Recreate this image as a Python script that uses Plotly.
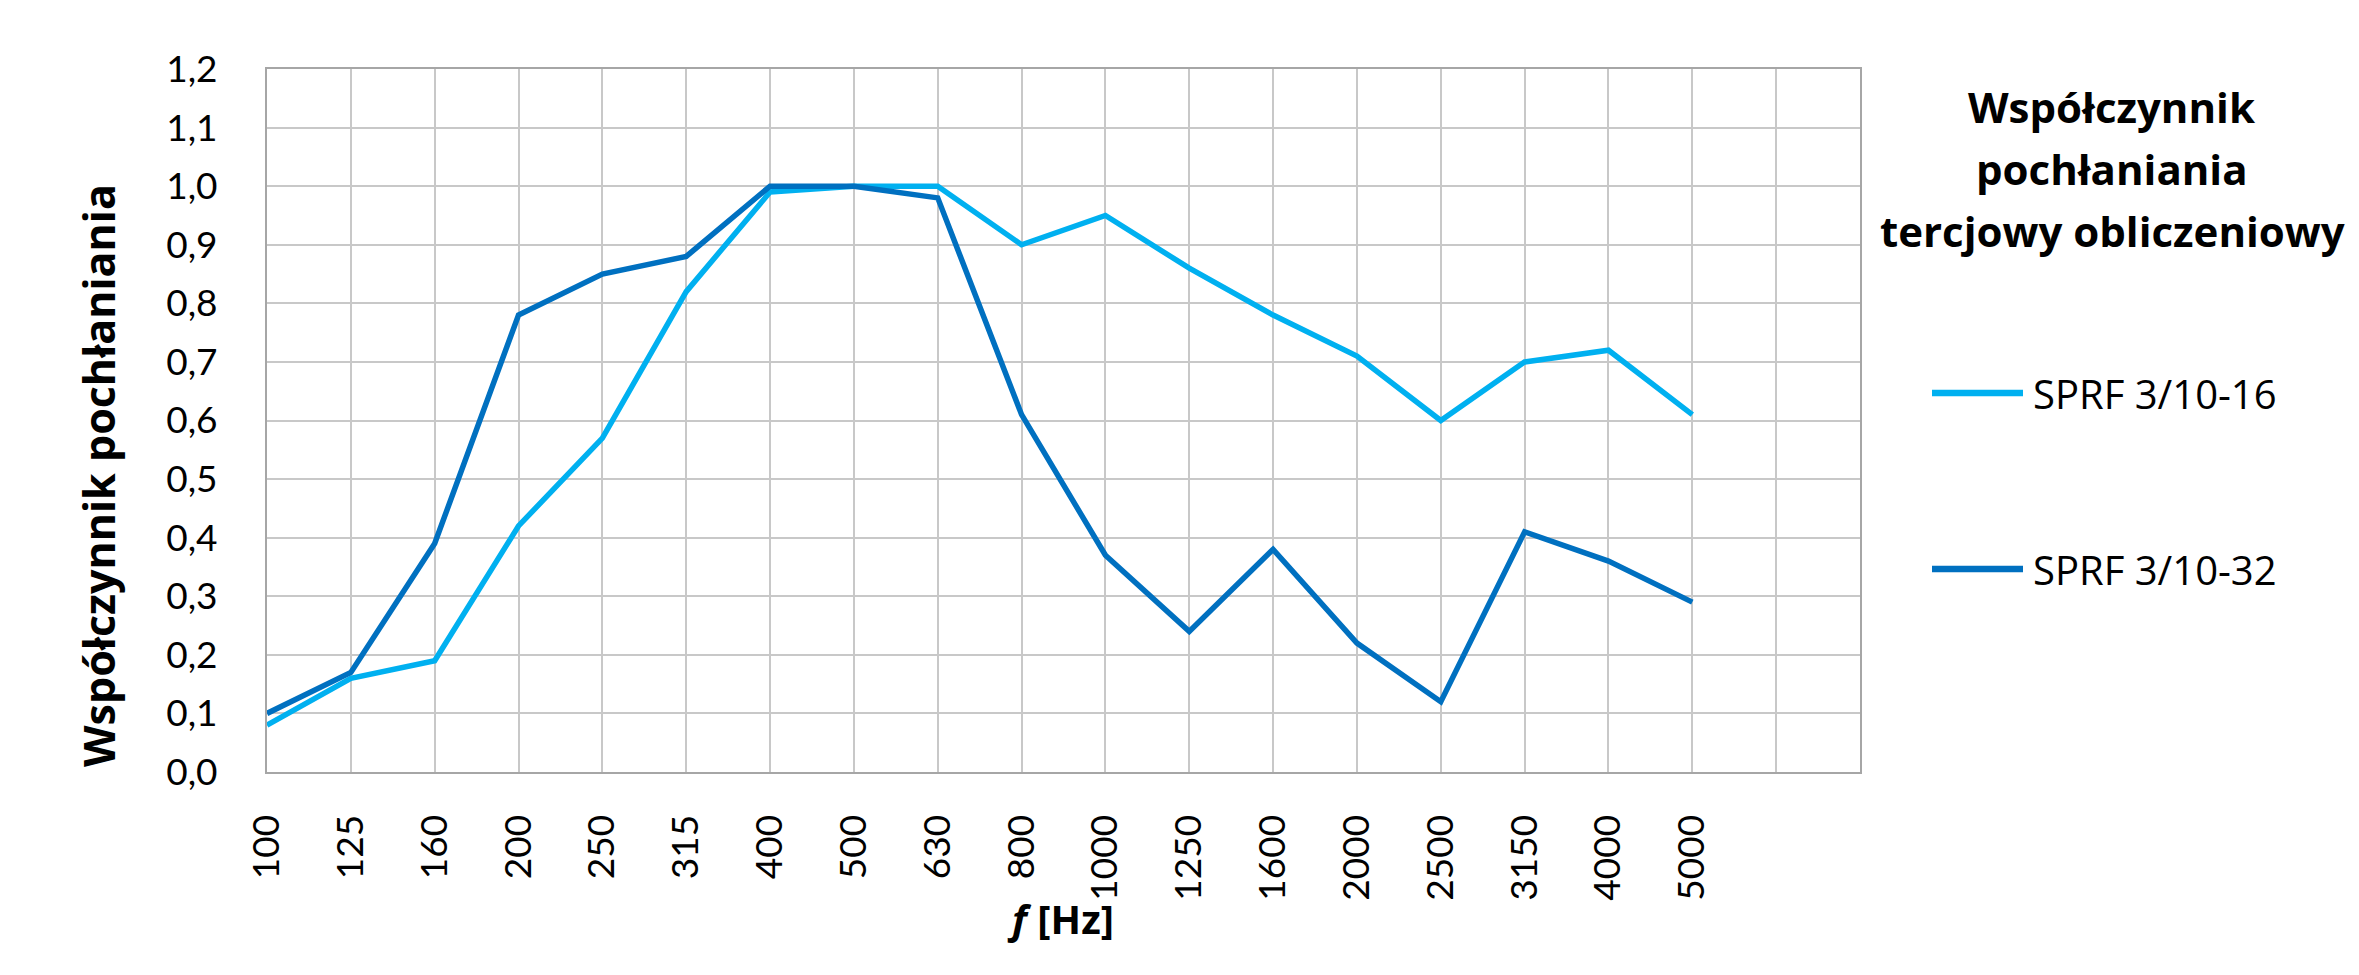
import plotly.graph_objects as go

# ---- data ----
frequencies = ["100", "125", "160", "200", "250", "315", "400", "500", "630", "800",
               "1000", "1250", "1600", "2000", "2500", "3150", "4000", "5000"]
series_names = ["SPRF 3/10-16", "SPRF 3/10-32"]
sprf_16 = [0.08, 0.16, 0.19, 0.42, 0.57, 0.82, 0.99, 1.00, 1.00, 0.90,
           0.95, 0.86, 0.78, 0.71, 0.60, 0.70, 0.72, 0.61]
sprf_32 = [0.10, 0.17, 0.39, 0.78, 0.85, 0.88, 1.00, 1.00, 0.98, 0.61,
           0.37, 0.24, 0.38, 0.22, 0.12, 0.41, 0.36, 0.29]
y_ticks = [0.0, 0.1, 0.2, 0.3, 0.4, 0.5, 0.6, 0.7, 0.8, 0.9, 1.0, 1.1, 1.2]
empty_slots = 2  # unused category slots on the right of the axis

colors = ["#00B0F0", "#0070C0"]

W, H = 2359, 975
L, R, T, B = 267, 499, 69, 203
plot_w = W - L - R
plot_h = H - T - B

def px_x(x):
    return (x - L) / plot_w

def px_y(y):
    return (H - B - y) / plot_h

n_slots = len(frequencies) + empty_slots
xs = list(range(len(frequencies)))

fig = go.Figure()
for name, vals, col in zip(series_names, [sprf_16, sprf_32], colors):
    fig.add_trace(go.Scatter(
        x=xs, y=vals, mode="lines", name=name,
        line=dict(color=col, width=5.5), showlegend=False,
    ))

tickvals = list(range(n_slots))
ticktext = frequencies + [""] * empty_slots

fig.update_layout(
    width=W, height=H,
    margin=dict(l=L, r=R, t=T, b=B),
    paper_bgcolor="white", plot_bgcolor="white",
    separators=", ",
    font=dict(family="Lato", color="#000000"),
    xaxis=dict(
        range=[0, n_slots - 1],
        tickmode="array", tickvals=tickvals, ticktext=ticktext,
        tickangle=-90, tickfont=dict(family="Lato", size=37, color="#000000"),
        showgrid=True, gridcolor="#C8C8C8", gridwidth=2,
        showline=True, linecolor="#A6A6A6", linewidth=2, mirror=True,
        ticks="", ticklabelstandoff=26, zeroline=False,
    ),
    yaxis=dict(
        range=[0, 1.2],
        tickmode="array", tickvals=y_ticks, tickformat=".1f",
        tickfont=dict(family="Lato", size=37, color="#000000"),
        showgrid=True, gridcolor="#C8C8C8", gridwidth=2,
        showline=True, linecolor="#A6A6A6", linewidth=2, mirror=True,
        ticks="", ticklabelstandoff=40, zeroline=False,
    ),
)

annotations = []
# y-axis title
annotations.append(dict(
    text="<b>Współczynnik pochłaniania</b>", textangle=-90,
    xref="paper", yref="paper", x=px_x(98), y=px_y(476),
    xanchor="center", yanchor="middle", showarrow=False,
    font=dict(family="Open Sans", size=43, color="#000000"),
))
# x-axis title
annotations.append(dict(
    text="<b><i>f</i> [Hz]</b>",
    xref="paper", yref="paper", x=px_x(1060), y=px_y(918),
    xanchor="center", yanchor="middle", showarrow=False,
    font=dict(family="Open Sans", size=40, color="#000000"),
))
# legend title
legend_title_lines = ["Współczynnik", "pochłaniania", "tercjowy obliczeniowy"]
for line, yc in zip(legend_title_lines, [106, 168, 230]):
    annotations.append(dict(
        text=f"<b>{line}</b>",
        xref="paper", yref="paper", x=px_x(2112), y=px_y(yc),
        xanchor="center", yanchor="middle", showarrow=False,
        font=dict(family="Open Sans", size=42, color="#000000"),
    ))

shapes = []
for name, col, yc in zip(series_names, colors, [393, 569]):
    shapes.append(dict(
        type="line", xref="paper", yref="paper",
        x0=px_x(1932), x1=px_x(2023), y0=px_y(yc), y1=px_y(yc),
        line=dict(color=col, width=6.5),
    ))
    annotations.append(dict(
        text=name,
        xref="paper", yref="paper", x=px_x(2031), y=px_y(yc),
        xanchor="left", yanchor="middle", showarrow=False,
        font=dict(family="Open Sans", size=40, color="#000000"),
    ))

fig.update_layout(annotations=annotations, shapes=shapes)

fig.write_html("out.html")
